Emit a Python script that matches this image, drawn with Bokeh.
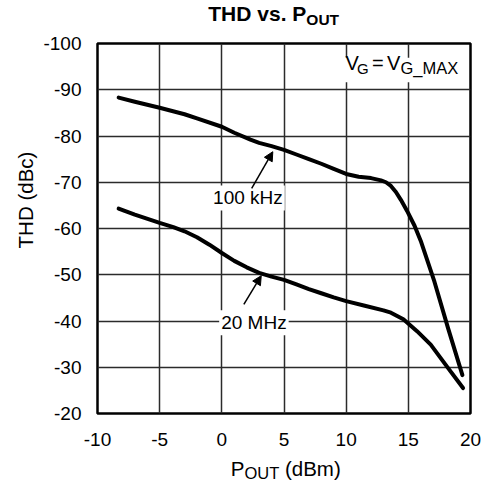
from bokeh.plotting import figure
from bokeh.models import Range1d, FixedTicker, Label, Arrow, NormalHead, BoxAnnotation, Div
from bokeh.layouts import column, row
from bokeh.embed import file_html
from bokeh.resources import INLINE

# ---- data ----
x_100k = [-8.3, -7, -5, -3, -2, 0, 1, 2.3, 3, 4, 5, 6, 7, 8, 9, 10, 11, 12, 12.8, 13.2, 13.6, 14.0, 14.4, 14.9, 15.5, 16.0, 17.1, 18.2, 19.35]
y_100k = [-88.3, -87.4, -86.1, -84.7, -83.8, -82.0, -80.7, -79.2, -78.5, -77.8, -77.0, -76.0, -75.0, -74.0, -72.9, -71.8, -71.2, -70.9, -70.4, -70.0, -69.2, -67.9, -66.2, -63.8, -60.6, -57.3, -48.5, -38.4, -28.3]

x_20m = [-8.3, -7, -5, -3.9, -3, -2, -1, 0, 1, 2, 3, 4, 5, 6, 7, 8, 9, 10, 11.5, 13, 13.6, 14.6, 15.7, 16.8, 18.2, 19.4]
y_20m = [-64.3, -63.0, -61.2, -60.3, -59.4, -58.1, -56.5, -54.7, -53.0, -51.6, -50.4, -49.6, -48.9, -47.9, -46.9, -46.0, -45.1, -44.3, -43.3, -42.3, -41.8, -40.4, -37.8, -34.9, -29.8, -25.5]

x_ticks = [-10, -5, 0, 5, 10, 15, 20]
y_ticks = [-100, -90, -80, -70, -60, -50, -40, -30, -20]

FONT = "Liberation Sans"

TITLE_H = 30
XLAB_H = 26
FIG_H = 481 - TITLE_H - XLAB_H   # 425
p = figure(width=441, height=FIG_H, output_backend="svg", toolbar_location=None,
           x_range=Range1d(-10, 20), y_range=Range1d(-20, -100),
           min_border_left=57, min_border_right=11, min_border_top=13, min_border_bottom=42)

p.xaxis.ticker = FixedTicker(ticks=x_ticks)
p.yaxis.ticker = FixedTicker(ticks=y_ticks)
p.xaxis.major_label_overrides = {t: str(t) for t in x_ticks}
p.yaxis.major_label_overrides = {t: str(t) for t in y_ticks}
for ax in (p.xaxis, p.yaxis):
    ax.axis_line_color = None
    ax.major_tick_line_color = None
    ax.minor_tick_line_color = None
    ax.major_tick_out = 0
    ax.major_tick_in = 0
    ax.minor_tick_out = 0
    ax.minor_tick_in = 0
    ax.major_label_text_font = FONT
    ax.major_label_text_font_size = "19px"
    ax.major_label_text_color = "black"
p.xaxis.major_label_standoff = 19
p.yaxis.major_label_standoff = 16

p.xgrid.ticker = FixedTicker(ticks=x_ticks)
p.ygrid.ticker = FixedTicker(ticks=y_ticks)
for g in (p.xgrid, p.ygrid):
    g.grid_line_color = "#2b2b2b"
    g.grid_line_width = 1.5
    g.grid_line_alpha = 1.0

p.outline_line_color = "black"
p.outline_line_width = 2.5
p.outline_line_alpha = 1.0
p.background_fill_color = "white"
p.border_fill_color = "white"

# curves
p.line(x_100k, y_100k, line_width=4, color="black", line_join="round", line_cap="round")
p.line(x_20m, y_20m, line_width=4, color="black", line_join="round", line_cap="round")

# white box behind the condition text
p.add_layout(BoxAnnotation(left=9.55, right=19.85, top=-96.9, bottom=-91.6,
                           fill_color="white", fill_alpha=1.0, line_color=None))

def lab(text, x, y, size, units="screen", **kw):
    l = Label(text=text, x=x, y=y, x_units=units, y_units=units,
              text_font=FONT, text_font_size=size, text_color="black", **kw)
    p.add_layout(l)
    return l

# condition text V_G = V_G_MAX
lab("V", 248, 339.7, "20px")
lab("G", 259.5, 336.5, "15px")
lab("=", 274.5, 339.7, "20px")
lab("V", 289.5, 339.7, "20px")
lab("G_MAX", 303, 336.5, "16.5px")

# curve labels
lab("100 kHz", 2.1, -66.6, "19px", units="data", text_align="center", text_baseline="middle",
    background_fill_color="white", padding=2)
lab("20 MHz", 2.58, -39.6, "19px", units="data", text_align="center", text_baseline="middle",
    background_fill_color="white", padding=2)

p.add_layout(Arrow(end=NormalHead(size=9, fill_color="black", line_color="black", line_width=1),
                   x_start=2.4, y_start=-68.7, x_end=4.1, y_end=-76.6,
                   line_width=1.5, line_color="black"))
p.add_layout(Arrow(end=NormalHead(size=9, fill_color="black", line_color="black", line_width=1),
                   x_start=1.77, y_start=-43.6, x_end=3.17, y_end=-49.8,
                   line_width=1.5, line_color="black"))

# ---- texts outside the plot frame (HTML, real text) ----
def text_block(html, left, top, size, bold=False, extra=""):
    return ('<div style="position:absolute;left:%spx;top:%spx;font-family:\'%s\';font-size:%spx;'
            'line-height:%spx;white-space:nowrap;color:black;font-weight:%s;%s">%s</div>'
            % (left, top, FONT, size, size, "bold" if bold else "normal", extra, html))

def sub(text, size, drop):
    return '<span style="font-size:%spx;position:relative;top:%spx;">%s</span>' % (size, drop, text)

def box(w, h, inner):
    return '<div style="position:relative;width:%dpx;height:%dpx;overflow:visible;">%s</div>' % (w, h, inner)

title_div = Div(width=481, height=TITLE_H, margin=0,
                text=box(481, TITLE_H, text_block("THD vs. P" + sub("OUT", 15.5, 4.3), 208.3, 2.9, 21, True)))

xlabel_div = Div(width=481, height=XLAB_H, margin=0,
                 text=box(481, XLAB_H, text_block("P" + sub("OUT", 16.5, 2.6) + " (dBm)", 230.7, 4.3, 20.5)))

ylabel_div = Div(width=40, height=FIG_H, margin=0,
                 text=box(40, FIG_H, text_block("THD (dBc)", 26, 200 - TITLE_H, 20.5,
                                                extra="transform:translate(-50%,-50%) rotate(-90deg);")))

layout = column(title_div, row(ylabel_div, p, spacing=0), xlabel_div, spacing=0)

open("out.html", "w").write(file_html(layout, INLINE))
